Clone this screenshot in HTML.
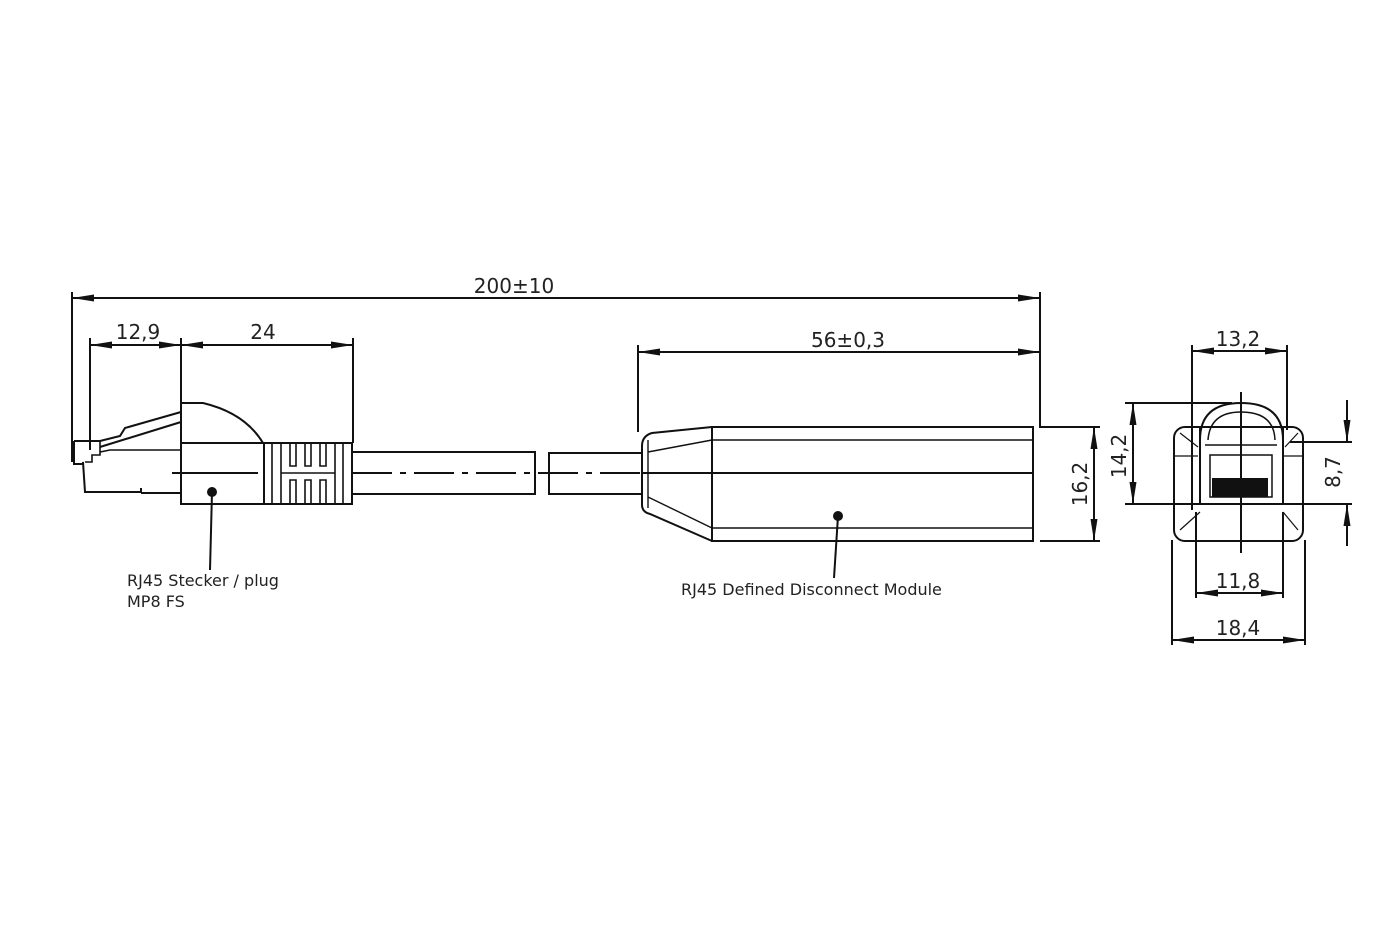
<!DOCTYPE html>
<html><head><meta charset="utf-8"><style>
html,body{margin:0;padding:0;background:#fff;}
svg{display:block;}
text{font-family:"DejaVu Sans","Liberation Sans",sans-serif;fill:#222;}
</style></head><body>
<svg width="1400" height="934" viewBox="0 0 1400 934" xmlns="http://www.w3.org/2000/svg">
<defs>
<marker id="a" viewBox="0 0 22 8" refX="22" refY="4" markerWidth="22" markerHeight="8" markerUnits="userSpaceOnUse" orient="auto-start-reverse"><path d="M0,0.5 L22,4 L0,7.5 z" fill="#111"/></marker>
</defs>
<g stroke="#111" stroke-width="2" fill="none">
<line x1="72" y1="292" x2="72" y2="462"/>
<line x1="1040" y1="292" x2="1040" y2="428"/>
<line x1="72" y1="298" x2="1040" y2="298" marker-start="url(#a)" marker-end="url(#a)"/>
<line x1="90" y1="338" x2="90" y2="450"/>
<line x1="181" y1="338" x2="181" y2="443"/>
<line x1="353" y1="338" x2="353" y2="443"/>
<line x1="90" y1="345" x2="181" y2="345" marker-start="url(#a)" marker-end="url(#a)"/>
<line x1="181" y1="345" x2="353" y2="345" marker-start="url(#a)" marker-end="url(#a)"/>
<rect x="181" y="443" width="83" height="61"/>
<path d="M181,403 L203,403 Q245,413 263,443"/>
<path d="M74,441 L74,464 L83,464 L83,462 L85,492 L141,492 L141,488 M141,493 L181,493"/>
<path d="M74,441 L100,441 L120,436 L125,428 L132,426 L181,412 M100,447 L181,422"/>
<path d="M100,441 L100,452 L110,450 L181,450 M85,462 L92,462 L92,455 L100,455 L100,452" stroke-width="1.6"/>
<line x1="172" y1="473" x2="258" y2="473"/>
<rect x="264" y="443" width="88" height="61"/>
<path d="M272,443 V504 M281,443 V504 M290,443 V466 H296 V443 M305,443 V466 H311 V443 M320,443 V466 H326 V443 M335,443 V504 M343,443 V504 M290,504 V480 H296 V504 M305,504 V480 H311 V504 M320,504 V480 H326 V504 M281,473 H335" stroke-width="1.6"/>
<path d="M352,452 H535 V494 H352"/>
<path d="M642,453 H549 V494 H642"/>
<line x1="352" y1="473" x2="642" y2="473" stroke-dasharray="40,8,6,8"/>
<path d="M712,427 L652,433 Q642,436 642,446 L642,505 Q642,512 650,514 L712,541"/>
<rect x="712" y="427" width="321" height="114"/>
<path d="M712,440 L648,452 M712,528 L648,497 M648,440 V508" stroke-width="1.4"/>
<line x1="712" y1="440" x2="1033" y2="440" stroke-width="1.4"/>
<line x1="712" y1="528" x2="1033" y2="528" stroke-width="1.4"/>
<line x1="642" y1="473" x2="1033" y2="473"/>
<line x1="638" y1="345" x2="638" y2="432"/>
<line x1="638" y1="352" x2="1040" y2="352" marker-start="url(#a)" marker-end="url(#a)"/>
<line x1="1040" y1="427" x2="1100" y2="427"/>
<line x1="1040" y1="541" x2="1100" y2="541"/>
<line x1="1094" y1="427" x2="1094" y2="541" marker-start="url(#a)" marker-end="url(#a)"/>
<rect x="1174" y="427" width="129" height="114" rx="11"/>
<path d="M1200,427 V505 M1283,427 V505" />
<path d="M1200,440 Q1200,403 1241,403 Q1283,403 1283,440"/>
<path d="M1208,440 Q1210,412 1241,412 Q1274,412 1275,440 M1205,445 H1277 M1210,455 H1272 V497 H1210 Z" stroke-width="1.5"/>
<path d="M1174,456 H1198 M1284,456 H1303 M1180,433 L1198,447 M1298,433 L1285,447 M1180,530 L1200,512 M1298,530 L1283,512" stroke-width="1.2"/>
<rect x="1212" y="478" width="56" height="19" fill="#111" stroke="none"/>
<line x1="1241" y1="392" x2="1241" y2="553"/>
<line x1="1192" y1="345" x2="1192" y2="510"/>
<line x1="1287" y1="345" x2="1287" y2="430"/>
<line x1="1192" y1="351" x2="1287" y2="351" marker-start="url(#a)" marker-end="url(#a)"/>
<line x1="1125" y1="403" x2="1232" y2="403"/>
<line x1="1125" y1="504" x2="1352" y2="504"/>
<line x1="1133" y1="403" x2="1133" y2="504" marker-start="url(#a)" marker-end="url(#a)"/>
<line x1="1290" y1="442" x2="1352" y2="442"/>
<line x1="1347" y1="400" x2="1347" y2="442" marker-end="url(#a)"/>
<line x1="1347" y1="546" x2="1347" y2="504" marker-end="url(#a)"/>
<line x1="1196" y1="512" x2="1196" y2="598"/>
<line x1="1283" y1="512" x2="1283" y2="598"/>
<line x1="1196" y1="593" x2="1283" y2="593" marker-start="url(#a)" marker-end="url(#a)"/>
<line x1="1172" y1="540" x2="1172" y2="645"/>
<line x1="1305" y1="540" x2="1305" y2="645"/>
<line x1="1172" y1="640" x2="1305" y2="640" marker-start="url(#a)" marker-end="url(#a)"/>
<line x1="212" y1="492" x2="210" y2="570"/>
<line x1="838" y1="516" x2="834" y2="578"/>
</g>
<circle cx="212" cy="492" r="5" fill="#111"/>
<circle cx="838" cy="516" r="5" fill="#111"/>
<g font-size="20">
<text x="514" y="293" text-anchor="middle">200±10</text>
<text x="138" y="339" text-anchor="middle">12,9</text>
<text x="263" y="339" text-anchor="middle">24</text>
<text x="848" y="347" text-anchor="middle">56±0,3</text>
<text x="1238" y="346" text-anchor="middle">13,2</text>
<text x="1238" y="588" text-anchor="middle">11,8</text>
<text x="1238" y="635" text-anchor="middle">18,4</text>
<text transform="translate(1087,484) rotate(-90)" text-anchor="middle">16,2</text>
<text transform="translate(1126,456) rotate(-90)" text-anchor="middle">14,2</text>
<text transform="translate(1340,472) rotate(-90)" text-anchor="middle">8,7</text>
</g>
<g font-size="16">
<text x="127" y="586">RJ45 Stecker / plug</text>
<text x="127" y="607">MP8 FS</text>
<text x="681" y="595">RJ45 Defined Disconnect Module</text>
</g>
</svg>
</body></html>
